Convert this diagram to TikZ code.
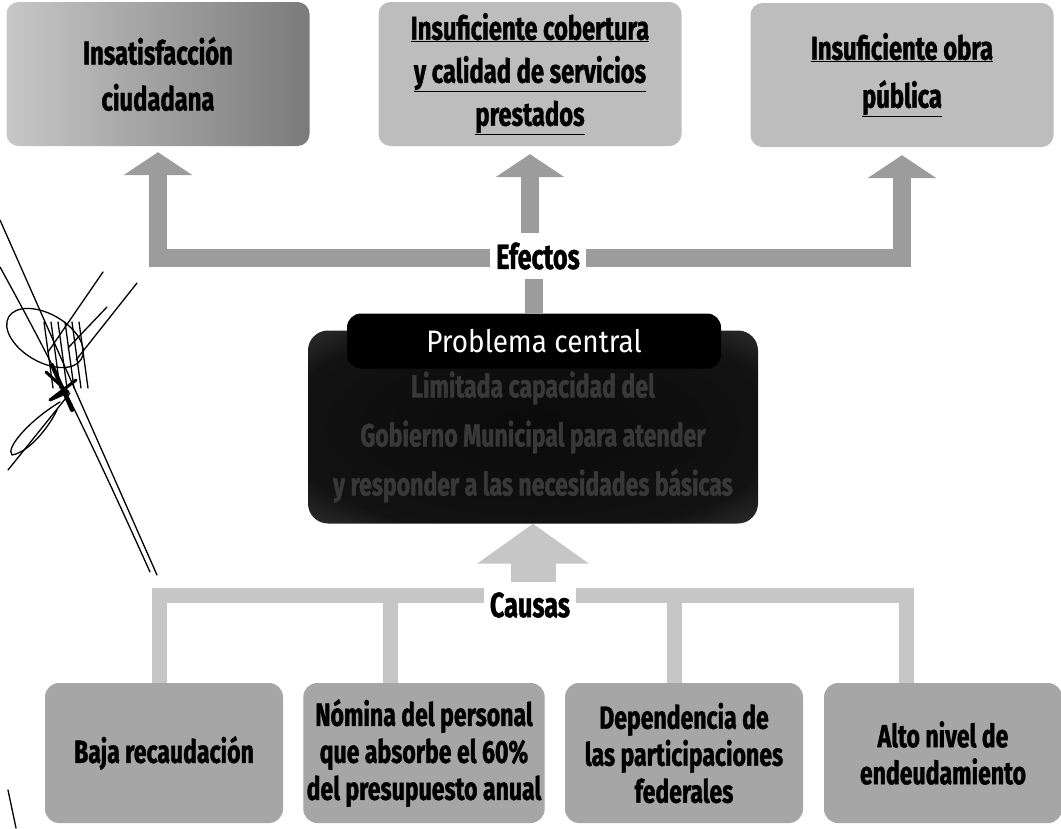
\documentclass[tikz,border=0pt]{standalone}
\usepackage{fontspec}
\usepackage{tikz}
\usetikzlibrary{arrows.meta,positioning,backgrounds}
\newfontfamily\condfont{Fira Sans}[FakeStretch=0.72, BoldFeatures={FakeBold=1.2}]
\newfontfamily\tabfont{Fira Sans}[FakeStretch=0.9]

\definecolor{efgray}{HTML}{9C9C9C}
\definecolor{cagray}{HTML}{C6C6C6}
\definecolor{boxgray}{HTML}{BDBDBD}
\definecolor{causegray}{HTML}{A6A6A6}

\pgfdeclareradialshading{probshade}{\pgfpoint{0bp}{0bp}}{color(0bp)=(black!96); color(28bp)=(black!93); color(50bp)=(black!62); color(100bp)=(black!62)}

\tikzset{
  efbox/.style={rounded corners=12pt, minimum width=303pt, minimum height=144pt,
    align=center, text=black, font=\condfont\bfseries\fontsize{33}{46}\selectfont},
  cabox/.style={rounded corners=14pt, fill=causegray, minimum width=238pt, minimum height=140pt,
    align=center, text=black, font=\condfont\bfseries\fontsize{32}{37}\selectfont},
  tag/.style={fill=white, minimum height=46pt, inner xsep=6pt,
    font=\condfont\bfseries\fontsize{35}{35}\selectfont},
  efline/.style={draw=efgray, line width=18pt},
  efhead/.style={-{Triangle[width=68pt,length=23pt]}},
  caline/.style={draw=cagray, line width=15pt},
  sign/.style={draw=black, line width=1.3pt, line cap=round, line join=round}
}

\begin{document}
\begin{tikzpicture}[x=1pt,y=-1pt]
\useasboundingbox (0,0) rectangle (1061,828);

% efectos
\node[efbox, left color=black!22, right color=black!52] (eff1) at (158,74) {Insatisfacción\\ciudadana};
\node[efbox, fill=boxgray, font=\condfont\bfseries\fontsize{33}{43}\selectfont] (eff2) at (530,74)
  {\underline{Insuficiente cobertura}\\\underline{y calidad de servicios}\\\underline{prestados}};
\node[efbox, fill=boxgray, font=\condfont\bfseries\fontsize{33}{48}\selectfont] (eff3) at (902,75)
  {\underline{Insuficiente obra}\\\underline{pública}};
\node[tag] (efectos) at (538,256) {Efectos};

% problema central
\node[rounded corners=20pt, minimum width=450pt, minimum height=193pt,
  shading=probshade] (problem) at (533,427) {};
\node[rounded corners=14pt, fill=black, minimum width=374pt, minimum height=55pt,
  text=white, font=\tabfont\fontsize{31}{31}\selectfont] (tab) at (534,341) {Problema central};
\node[align=center, text=black!78, font=\condfont\bfseries\fontsize{32}{49}\selectfont] (probtext) at (533,437)
  {Limitada capacidad del\\Gobierno Municipal para atender\\y responder a las necesidades básicas};

% causas
\node[tag] (causas) at (530,605) {Causas};
\node[cabox] (cause1) at (164,753) {Baja recaudación};
\node[cabox] (cause2) at (424,753) {Nómina del personal\\que absorbe el 60\%\\del presupuesto anual};
\node[cabox] (cause3) at (684,753) {Dependencia de\\las participaciones\\federales};
\node[cabox] (cause4) at (943,753) {Alto nivel de\\endeudamiento};

\coordinate (efbar) at (538,258);
\coordinate (cabar) at (530,595);

\begin{scope}[on background layer]
\draw[efline, efhead, shorten >=6pt] (efbar) -| (eff1.south);
\draw[efline, efhead, shorten >=8pt] (efbar) -| (eff3.south);
\draw[efline, efhead, shorten >=8pt] (eff2.south |- efectos.north) -- (eff2.south);
\draw[efline] (tab.north) -- (tab.north |- efectos.south);

\draw[draw=cagray, line width=45pt, -{Triangle[width=110pt,length=40pt]}] (problem.south |- causas.north) -- (problem.south);
\draw[caline] ([xshift=-5pt]cause1.north) |- (cabar) -| ([xshift=-37pt]cause4.north);
\draw[caline] ([xshift=-34pt]cause2.north) -- ([xshift=-34pt]cause2.north |- cabar);
\draw[caline] ([xshift=-10pt]cause3.north) -- ([xshift=-10pt]cause3.north |- cabar);
\end{scope}

% firma
\draw[sign] (0,220) -- (157,575);
\draw[sign] (0,267) .. controls (40,340) and (75,405) .. (150,572);
\draw[sign, rotate around={-30:(45,338)}] (45,338) ellipse (42pt and 24pt);
\draw[sign] (103,272) -- (48,352);
\draw[sign] (137,283) -- (76,360);
\draw[sign] (107,307) -- (68,348);
\draw[sign] (70,393) -- (8,470);
\draw[sign] (60,402) .. controls (30,420) and (5,448) .. (12,455) .. controls (30,452) and (50,425) .. (57,410);
\foreach \hx in {44,51,...,79}
  \draw[sign] (\hx,322) -- (\hx+9,388);
\draw[sign, line width=4pt] (52,365) -- (72,410);
\draw[sign, line width=3pt] (46,372) -- (68,392) -- (50,400) -- (76,380);
\draw[sign] (8,790) -- (16,828);
\end{tikzpicture}
\end{document}
